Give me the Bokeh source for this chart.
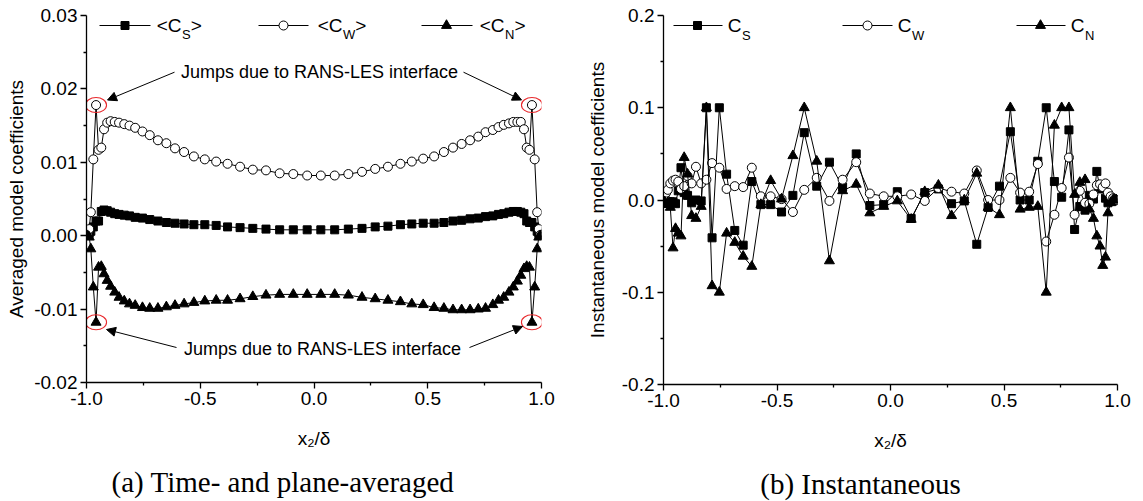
from bokeh.plotting import figure
from bokeh.layouts import row
from bokeh.models import (Range1d, FixedTicker, PrintfTickFormatter, Label, Arrow,
                          NormalHead, ColumnDataSource, Title)
from bokeh.embed import file_html
from bokeh.resources import INLINE

# ---------------- data ----------------
x2 = [-0.995, -0.988, -0.981, -0.970, -0.958, -0.947, -0.935, -0.923, -0.909, -0.894,
      -0.876, -0.857, -0.834, -0.811, -0.786, -0.754, -0.722, -0.686, -0.649, -0.611,
      -0.571, -0.528, -0.480, -0.430, -0.380, -0.325, -0.269, -0.211, -0.151, -0.091,
      -0.030,
      0.030, 0.091, 0.151, 0.211, 0.269, 0.325, 0.380, 0.430, 0.480, 0.528,
      0.571, 0.611, 0.649, 0.686, 0.722, 0.754, 0.786, 0.811, 0.834, 0.857,
      0.876, 0.894, 0.909, 0.923, 0.935, 0.947, 0.958, 0.970, 0.981, 0.988, 0.995]

cs_avg = [0.0001, 0.0003, 0.0006, 0.0012, 0.0020, 0.0020, 0.0033, 0.0035, 0.0034, 0.0032,
          0.0030, 0.0029, 0.0028, 0.0027, 0.0025, 0.0024, 0.0022, 0.0020, 0.0018, 0.0017,
          0.0016, 0.0015, 0.0015, 0.0014, 0.0012, 0.0011, 0.0010, 0.0009, 0.0008, 0.0008,
          0.0008,
          0.0008, 0.0008, 0.0009, 0.0010, 0.0012, 0.0013, 0.0015, 0.0016, 0.0017, 0.0017,
          0.0018, 0.0020, 0.0021, 0.0023, 0.0024, 0.0026, 0.0027, 0.0029, 0.0030, 0.0032,
          0.0033, 0.0033, 0.0032, 0.0030, 0.0020, 0.0018, 0.0018, 0.0012, 0.0006, 0.0003,
          0.0001]

cw_avg = [0.0001, 0.0009, 0.0032, 0.0104, 0.0178, 0.0117, 0.0120, 0.0145, 0.0154, 0.0156,
          0.0155, 0.0154, 0.0152, 0.0150, 0.0147, 0.0142, 0.0137, 0.0130, 0.0126, 0.0119,
          0.0114, 0.0108, 0.0104, 0.0101, 0.0098, 0.0094, 0.0090, 0.0089, 0.0085, 0.0084,
          0.0082,
          0.0082, 0.0082, 0.0084, 0.0087, 0.0091, 0.0094, 0.0098, 0.0101, 0.0105, 0.0108,
          0.0114, 0.0120, 0.0125, 0.0130, 0.0135, 0.0141, 0.0144, 0.0148, 0.0151, 0.0153,
          0.0155, 0.0155, 0.0155, 0.0145, 0.0120, 0.0117, 0.0178, 0.0104, 0.0032, 0.0009,
          0.0001]

cn_avg = [0.0000, -0.0002, -0.0018, -0.0070, -0.0118, -0.0043, -0.0042, -0.0052, -0.0061, -0.0069,
          -0.0077, -0.0084, -0.0089, -0.0093, -0.0095, -0.0098, -0.0099, -0.0099, -0.0097, -0.0095,
          -0.0093, -0.0091, -0.0089, -0.0088, -0.0088, -0.0086, -0.0083, -0.0081, -0.0080, -0.0080,
          -0.0080,
          -0.0080, -0.0080, -0.0081, -0.0084, -0.0086, -0.0088, -0.0090, -0.0093, -0.0094, -0.0098,
          -0.0099, -0.0101, -0.0101, -0.0101, -0.0100, -0.0099, -0.0094, -0.0088, -0.0084, -0.0077,
          -0.0070, -0.0062, -0.0054, -0.0045, -0.0042, -0.0043, -0.0118, -0.0070, -0.0018, -0.0002,
          0.0000]

cs_inst = [-0.001, -0.003, -0.002, -0.002, -0.002, -0.004, 0.010, 0.035, 0.008, 0.005,
           -0.003, 0.000, -0.001, 0.100, -0.041, 0.100, 0.028, -0.033, -0.049, 0.020,
           -0.005, -0.005, -0.013, 0.005, 0.073, 0.015, 0.041, 0.014, 0.050, -0.006,
           -0.005,
           0.009, -0.020, 0.008, 0.012, -0.004, -0.001, -0.048, -0.008, 0.015, 0.074,
           0.000, 0.000, 0.042, 0.100, 0.020, 0.003, 0.076, -0.032, -0.007, -0.011,
           0.005, 0.001, 0.031, 0.012, 0.014, 0.002, -0.003, 0.001, -0.001, 0.000,
           0.000]

cw_inst = [0.004, 0.008, 0.011, 0.018, 0.021, 0.022, 0.020, 0.012, 0.015, 0.026,
           0.018, 0.036, 0.018, 0.022, 0.040, 0.035, 0.012, 0.015, 0.014, 0.035,
           0.004, 0.004, 0.001, -0.013, 0.011, 0.024, -0.001, 0.022, 0.041, 0.007,
           0.004,
           0.004, 0.006, -0.001, 0.013, 0.009, 0.007, 0.032, 0.000, 0.000, 0.024,
           0.008, 0.009, 0.039, -0.045, -0.016, 0.013, 0.046, -0.016, 0.010, -0.003,
           -0.004, 0.006, 0.016, 0.017, 0.014, 0.018, 0.008, 0.004, 0.002, 0.001,
           0.000]

cn_inst = [-0.002, -0.005, -0.003, -0.008, -0.052, -0.031, -0.036, -0.039, 0.046, 0.028,
           -0.017, -0.020, -0.007, 0.100, -0.093, -0.100, -0.036, -0.046, -0.061, -0.072,
           -0.005, 0.021, 0.001, 0.048, 0.100, 0.042, -0.066, 0.010, 0.017, -0.014,
           -0.007,
           -0.001, -0.021, 0.009, 0.016, -0.017, 0.000, 0.029, -0.008, -0.016, 0.100,
           -0.010, -0.008, -0.007, -0.100, 0.081, 0.100, 0.100, 0.006, 0.019, 0.022,
           -0.010, -0.020, -0.039, -0.050, -0.071, -0.062, -0.014, -0.003, 0.000, 0.000,
           0.000]

x_ticks = [-1.0, -0.5, 0.0, 0.5, 1.0]
x_minor = [-0.75, -0.25, 0.25, 0.75]
ya_ticks = [-0.02, -0.01, 0.0, 0.01, 0.02, 0.03]
ya_minor = [-0.015, -0.005, 0.005, 0.015, 0.025]
yb_ticks = [-0.2, -0.1, 0.0, 0.1, 0.2]
yb_minor = [-0.15, -0.05, 0.05, 0.15]

annot_text = "Jumps due to RANS-LES interface"
caption_a = "(a) Time- and plane-averaged"
caption_b = "(b) Instantaneous"

SANS = "Liberation Sans"
SERIF = "Liberation Serif"

# ---------------- page geometry (pixels) ----------------
H = 501
W1 = 575                      # width of left figure
L_LEFT, L_RIGHT, L_TOP, L_BOT = 86, 541, 15, 382
R_LEFT, R_RIGHT, R_TOP, R_BOT = 663, 1117, 13, 382


def make_fig(width, x0, left, right, top, bot, yr, yticks, yminor, yfmt, ylabel, ystand):
    p = figure(width=width, height=H, output_backend="svg", toolbar_location=None,
               x_range=Range1d(-1, 1), y_range=Range1d(*yr),
               frame_width=right - left, frame_height=bot - top,
               min_border_left=left - x0, min_border_right=x0 + width - right,
               min_border_top=top, min_border_bottom=H - bot,
               x_axis_label="x₂/δ", y_axis_label=ylabel)
    p.outline_line_color = None
    p.grid.visible = False
    p.background_fill_color = "white"
    p.border_fill_color = "white"
    p.xaxis.ticker = FixedTicker(ticks=x_ticks, minor_ticks=x_minor)
    p.xaxis.formatter = PrintfTickFormatter(format="%.1f")
    p.yaxis.ticker = FixedTicker(ticks=yticks, minor_ticks=yminor)
    p.yaxis.formatter = PrintfTickFormatter(format=yfmt)
    for ax in (p.xaxis[0], p.yaxis[0]):
        ax.axis_line_color = "black"
        ax.axis_line_width = 1.3
        ax.major_tick_line_color = "black"
        ax.minor_tick_line_color = "black"
        ax.major_tick_line_width = 1.3
        ax.minor_tick_line_width = 1.3
        ax.major_tick_in = 0
        ax.major_tick_out = 6
        ax.minor_tick_in = 0
        ax.minor_tick_out = 3
        ax.major_label_text_font = SANS
        ax.major_label_text_font_size = "19px"
        ax.major_label_text_color = "black"
        ax.major_label_standoff = 3
        ax.axis_label_text_font = SANS
        ax.axis_label_text_font_size = "19px"
        ax.axis_label_text_font_style = "normal"
        ax.axis_label_text_color = "black"
    p.xaxis.axis_label_standoff = 20
    p.yaxis.axis_label_standoff = ystand
    return p


p1 = make_fig(W1, 0, L_LEFT, L_RIGHT, L_TOP, L_BOT, (-0.02, 0.03), ya_ticks, ya_minor, "%.2f",
              "Averaged model coefficients", 4)
p2 = make_fig(1143 - W1, W1, R_LEFT, R_RIGHT, R_TOP, R_BOT, (-0.2, 0.2), yb_ticks, yb_minor, "%.1f",
              "Instantaneous model coefficients", 11)


def lx(px):
    return -1 + 2 * (px - L_LEFT) / (L_RIGHT - L_LEFT)


def ly(py):
    return 0.03 - 0.05 * (py - L_TOP) / (L_BOT - L_TOP)


def rx(px):
    return -1 + 2 * (px - R_LEFT) / (R_RIGHT - R_LEFT)


def ry(py):
    return 0.2 - 0.4 * (py - R_TOP) / (R_BOT - R_TOP)


STY = {
    "s": dict(marker="square", size=8, fill_color="black", line_color="black"),
    "w": dict(marker="circle", size=9, fill_color="white", line_color="black", line_width=1),
    "n": dict(marker="triangle", size=10, fill_color="black", line_color="black"),
}


def draw_series(p, src, cols):
    for col, key in cols:
        p.line("x", col, source=src, line_color="black", line_width=1)
        p.scatter("x", col, source=src, **STY[key])


src_a = ColumnDataSource(dict(x=x2, cs=cs_avg, cw=cw_avg, cn=cn_avg))
src_b = ColumnDataSource(dict(x=x2, cs=cs_inst, cw=cw_inst, cn=cn_inst))
draw_series(p1, src_a, [("cs", "s"), ("cw", "w"), ("cn", "n")])
draw_series(p2, src_b, [("cs", "s"), ("cw", "w"), ("cn", "n")])


# ---------------- manual legends ----------------
def legend(p, fx, fy, ypx, items, sub_dy, main_size, sub_size):
    for (a, b, m, key, xr, main, sub, tail, subw) in items:
        yv = fy(ypx)
        p.line([fx(a), fx(b)], [yv, yv], line_color="black", line_width=1)
        p.scatter([fx(m)], [yv], **STY[key])
        p.add_layout(Label(x=fx(xr), y=yv, text=main, text_align="right", text_baseline="middle",
                           text_font=SANS, text_font_size=main_size, text_color="black"))
        p.add_layout(Label(x=fx(xr + 0.5), y=fy(ypx + sub_dy), text=sub, text_align="left",
                           text_baseline="middle", text_font=SANS, text_font_size=sub_size,
                           text_color="black"))
        if tail:
            p.add_layout(Label(x=fx(xr + 0.5 + subw), y=yv, text=tail, text_align="left",
                               text_baseline="middle", text_font=SANS, text_font_size=main_size,
                               text_color="black"))


legend(p1, lx, ly, 25, [
    (99, 150, 124.5, "s", 181, "<C", "S", ">", 8.7),
    (258, 308, 283, "w", 342, "<C", "W", ">", 12.3),
    (421, 472, 446, "n", 504, "<C", "N", ">", 9.4),
], 9, "19px", "13px")

legend(p2, rx, ry, 23, [
    (673, 722, 697, "s", 741, "C", "S", "", 0),
    (842, 892, 867, "w", 911, "C", "W", "", 0),
    (1016, 1065, 1040, "n", 1084, "C", "N", "", 0),
], 10, "19px", "13px")

# ---------------- annotations (left panel) ----------------
half = len(x2) // 2
jumps_w = [max(range(half), key=lambda i: cw_avg[i]), max(range(half, len(x2)), key=lambda i: cw_avg[i])]
jumps_n = [min(range(half), key=lambda i: cn_avg[i]), min(range(half, len(x2)), key=lambda i: cn_avg[i])]
ex = [x2[i] for i in jumps_w] + [x2[i] for i in jumps_n]
ey = [cw_avg[i] for i in jumps_w] + [cn_avg[i] for i in jumps_n]
p1.ellipse(x=ex, y=ey, width=21, height=15, width_units="screen", height_units="screen",
           fill_color=None, line_color="#e8292d", line_width=1.1)

p1.add_layout(Label(x=lx(319), y=ly(71.7), text=annot_text, text_align="center",
                    text_baseline="middle", text_font=SANS, text_font_size="18px",
                    text_color="black"))
p1.add_layout(Label(x=lx(322), y=ly(348.3), text=annot_text, text_align="center",
                    text_baseline="middle", text_font=SANS, text_font_size="18px",
                    text_color="black"))
for (sx, sy, exx, eyy) in [(174, 71.7, 107, 99.5), (463, 71.7, 521, 99.5),
                           (176, 347, 106, 329), (469, 347, 522, 326)]:
    p1.add_layout(Arrow(x_start=lx(sx), y_start=ly(sy), x_end=lx(exx), y_end=ly(eyy),
                        line_color="black", line_width=1,
                        end=NormalHead(size=9, fill_color="black", line_color="black",
                                       line_width=1)))

# ---------------- captions (titles below each panel) ----------------
CAP_SIZE = 29
cap_a_start = 283 - 11.856 * CAP_SIZE / 2     # centre 283 px on page
cap_b_start = 860 - 6.915 * CAP_SIZE / 2      # centre 860 px on page
p1.add_layout(Title(text=caption_a, align="left", offset=cap_a_start - L_LEFT, standoff=24,
                    text_font=SERIF, text_font_size=f"{CAP_SIZE}px", text_font_style="normal",
                    text_color="black"), "below")
p2.add_layout(Title(text=caption_b, align="left", offset=cap_b_start - R_LEFT, standoff=24,
                    text_font=SERIF, text_font_size=f"{CAP_SIZE}px", text_font_style="normal",
                    text_color="black"), "below")

layout = row(p1, p2)
open("out.html", "w").write(file_html(layout, INLINE))
